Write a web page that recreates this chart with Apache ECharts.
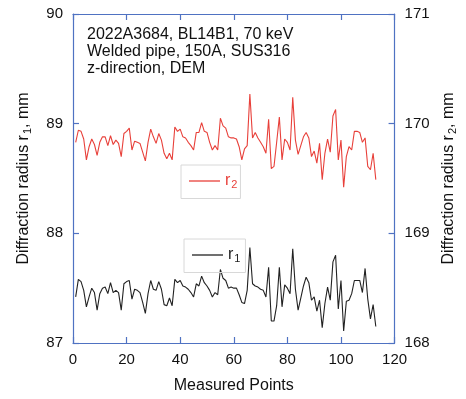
<!DOCTYPE html>
<html>
<head>
<meta charset="utf-8">
<script src="https://cdn.jsdelivr.net/npm/echarts@6/dist/echarts.min.js"></script>
<style>html,body{margin:0;padding:0;background:#fff}#c{width:466px;height:399px}</style>
</head>
<body>
<div id="c"></div>
<script>
// r1 (left axis, mm), measured points 1..113
const r1 = [87.42,87.58,87.56,87.48,87.33,87.42,87.50,87.46,87.30,87.45,
87.50,87.51,87.45,87.55,87.46,87.48,87.46,87.30,87.54,87.56,
87.57,87.40,87.49,87.48,87.46,87.37,87.27,87.45,87.57,87.49,
87.48,87.56,87.49,87.35,87.34,87.41,87.34,87.58,87.55,87.57,
87.52,87.51,87.49,87.46,87.42,87.54,87.52,87.61,87.55,87.52,
87.48,87.42,87.46,87.44,87.67,87.59,87.57,87.50,87.51,87.50,
87.50,87.44,87.37,87.36,87.48,87.87,87.54,87.52,87.51,87.49,
87.48,87.42,87.69,87.20,87.20,87.34,87.69,87.33,87.53,87.50,
87.45,87.86,87.49,87.30,87.41,87.52,87.60,87.55,87.39,87.42,
87.29,87.39,87.14,87.36,87.51,87.39,87.74,87.80,87.31,87.57,
87.11,87.38,87.39,87.45,87.57,87.57,87.57,87.46,87.68,87.40,
87.22,87.35,87.15];
// r2 (right axis, mm)
const r2 = [169.83,169.94,169.93,169.86,169.67,169.79,169.86,169.81,169.71,169.83,
169.88,169.88,169.80,169.89,169.81,169.85,169.82,169.70,169.91,169.93,
169.96,169.76,169.84,169.83,169.82,169.74,169.66,169.83,169.95,169.88,
169.82,169.91,169.85,169.73,169.68,169.73,169.67,169.97,169.93,169.95,
169.88,169.87,169.83,169.80,169.76,169.92,169.92,170.01,169.93,169.92,
169.83,169.76,169.80,169.76,170.05,169.98,169.96,169.88,169.87,169.87,
169.86,169.79,169.67,169.77,169.80,170.27,169.87,169.92,169.87,169.83,
169.79,169.73,170.04,169.59,169.61,169.83,170.06,169.67,169.86,169.83,
169.76,170.24,169.85,169.72,169.80,169.88,169.92,169.87,169.70,169.75,
169.64,169.82,169.49,169.73,169.86,169.74,170.07,170.13,169.67,169.85,
169.42,169.70,169.79,169.76,169.93,169.93,169.92,169.83,169.87,169.61,
169.58,169.73,169.49];
const xTicks = [0, 20, 40, 60, 80, 100, 120];
const leftTicks = [87, 88, 89, 90];
const rightTicks = [168, 169, 170, 171];
const infoLines = ['2022A3684, BL14B1, 70 keV', 'Welded pipe, 150A, SUS316', 'z-direction, DEM'];

const FONT = '"Liberation Sans", Arial, Helvetica, sans-serif';
const AX = '#4f72c2';
const RED = '#e8403a';
const BLK = '#222222';

const chart = echarts.init(document.getElementById('c'));
const pts = arr => arr.map((v, i) => [i + 1, v]);

const line = () => ({show: true, onZero: false, lineStyle: {color: AX, width: 1.2}});
const tick = () => ({show: true, inside: true, length: 6, lineStyle: {color: AX, width: 1.2}});
const label = (m) => ({show: true, color: '#111', fontSize: 15, fontFamily: FONT, margin: m});

const richName = {
  a: {fontSize: 16, fontFamily: FONT, color: '#111'},
  s: {fontSize: 11, fontFamily: FONT, color: '#111', padding: [8, 0, 0, 1]}
};

chart.setOption({
  animation: false,
  backgroundColor: '#fff',
  grid: {left: 73, right: 68, top: 14, bottom: 53},
  xAxis: [
    {
      type: 'value', min: xTicks[0], max: xTicks[xTicks.length - 1], interval: 20,
      position: 'bottom', axisLine: line(), axisTick: tick(), axisLabel: label(9),
      splitLine: {show: false},
      name: 'Measured Points', nameLocation: 'middle', nameGap: 35,
      nameTextStyle: {fontSize: 16, fontFamily: FONT, color: '#111'}
    },
    {
      type: 'value', min: 0, max: 120, interval: 20, position: 'top',
      axisLine: line(), axisTick: tick(), axisLabel: {show: false}, splitLine: {show: false}
    }
  ],
  yAxis: [
    {
      type: 'value', min: leftTicks[0], max: leftTicks[leftTicks.length - 1], interval: 1,
      position: 'left', axisLine: line(), axisTick: tick(), axisLabel: label(10),
      splitLine: {show: false},
      name: '{a|Diffraction radius r}{s|1}{a|, mm}', nameLocation: 'middle', nameGap: 40, nameRotate: 90,
      nameTextStyle: {rich: richName}
    },
    {
      type: 'value', min: rightTicks[0], max: rightTicks[rightTicks.length - 1], interval: 1,
      position: 'right', axisLine: line(), axisTick: tick(), axisLabel: label(10),
      splitLine: {show: false},
      name: '{a|Diffraction radius r}{s|2}{a|, mm}', nameLocation: 'middle', nameGap: 41, nameRotate: 90,
      nameTextStyle: {rich: richName}
    }
  ],
  legend: [
    {
      data: ['r2'], left: 181, top: 165, orient: 'vertical', icon: 'rect',
      itemWidth: 31, itemHeight: 1.3, padding: [8, 3, 8, 8],
      borderColor: '#d8d8d8', borderWidth: 1,
      formatter: () => '{a|r}{s|2}',
      textStyle: {rich: {
        a: {fontSize: 16, fontFamily: FONT, color: RED},
        s: {fontSize: 11, fontFamily: FONT, color: RED, padding: [8, 0, 0, 1]}
      }}
    },
    {
      data: ['r1'], left: 184, top: 239, orient: 'vertical', icon: 'rect',
      itemWidth: 31, itemHeight: 1.3, padding: [8, 5, 8, 8],
      borderColor: '#d8d8d8', borderWidth: 1,
      formatter: () => '{a|r}{s|1}',
      textStyle: {rich: {
        a: {fontSize: 16, fontFamily: FONT, color: BLK},
        s: {fontSize: 11, fontFamily: FONT, color: BLK, padding: [8, 0, 0, 1]}
      }}
    }
  ],
  graphic: [{
    type: 'text', left: 87, top: 26,
    style: {text: infoLines.join('\n'), font: '16px ' + FONT, fill: '#111', lineHeight: 17}
  }],
  series: [
    {
      name: 'r2', type: 'line', xAxisIndex: 0, yAxisIndex: 1, data: pts(r2),
      symbol: 'none', lineStyle: {color: RED, width: 1.1}, itemStyle: {color: RED}
    },
    {
      name: 'r1', type: 'line', xAxisIndex: 0, yAxisIndex: 0, data: pts(r1),
      symbol: 'none', lineStyle: {color: BLK, width: 1.1}, itemStyle: {color: BLK}
    }
  ]
});
</script>
</body>
</html>
